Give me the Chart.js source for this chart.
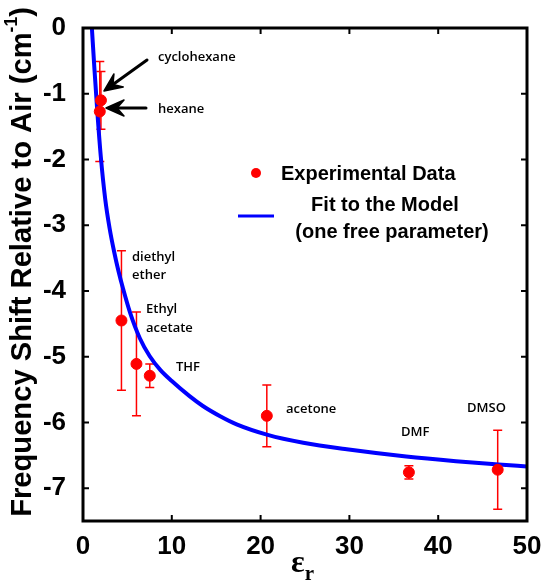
<!DOCTYPE html>
<html>
<head>
<meta charset="utf-8">
<script src="https://cdn.jsdelivr.net/npm/chart.js@4.4.0/dist/chart.umd.min.js"></script>
<style>
  html, body { margin: 0; padding: 0; background: #fff; }
  #wrap { width: 545px; height: 580px; }
</style>
</head>
<body>
<div id="wrap"><canvas id="shiftChart" width="545" height="580"></canvas></div>
<script>
// measured solvents
const solvents = ['hexane', 'cyclohexane', 'diethyl ether', 'Ethyl acetate', 'THF', 'acetone', 'DMF', 'DMSO'];
const epsilon = [1.89, 2.02, 4.33, 6.02, 7.52, 20.7, 36.7, 46.7];
const shift = [-1.27, -1.10, -4.45, -5.11, -5.29, -5.90, -6.76, -6.72];
const shiftErr = [0.76, 0.44, 1.06, 0.79, 0.18, 0.47, 0.10, 0.60];

// fit curve
const fitEps = [1.0, 1.3, 1.6, 2.0, 2.5, 3.0, 3.5, 4.0, 4.5, 5.3, 6.4, 7.5, 8.7, 10, 12, 13.5, 15.5, 17.3, 20.8, 24.8, 29.7, 36.4, 42, 46.8, 50];
const fitShift = [0, -0.65, -1.25, -1.95, -2.6, -3.05, -3.4, -3.7, -3.96, -4.33, -4.72, -4.99, -5.2, -5.37, -5.6, -5.75, -5.91, -6.03, -6.19, -6.31, -6.41, -6.52, -6.59, -6.64, -6.67];

const xTicks = [0, 10, 20, 30, 40, 50];
const yTicks = [0, -1, -2, -3, -4, -5, -6, -7];

const RED = '#ff0000';
const BLUE = '#0000ff';
const SANS = '"Liberation Sans", Arial, sans-serif';
const NOTE = '"Open Sans", sans-serif';

Chart.defaults.color = '#000';

function arrow(ctx, x1, y1, x2, y2) {
    const a = Math.atan2(y2 - y1, x2 - x1);
    const len = 18, wing = 8, notch = 11;
    ctx.save();
    ctx.strokeStyle = '#000';
    ctx.fillStyle = '#000';
    ctx.lineWidth = 3;
    ctx.lineCap = 'round';
    ctx.beginPath();
    ctx.moveTo(x1, y1);
    ctx.lineTo(x2 - Math.cos(a) * notch, y2 - Math.sin(a) * notch);
    ctx.stroke();
    ctx.translate(x2, y2);
    ctx.rotate(a);
    ctx.lineJoin = 'round';
    ctx.lineWidth = 1.5;
    ctx.beginPath();
    ctx.moveTo(0, 0);
    ctx.lineTo(-len, -wing);
    ctx.lineTo(-notch, 0);
    ctx.lineTo(-len, wing);
    ctx.closePath();
    ctx.fill();
    ctx.stroke();
    ctx.restore();
}

const errorBars = {
    id: 'errorBars',
    beforeDatasetsDraw(chart) {
        const { ctx, scales: { x, y } } = chart;
        ctx.save();
        ctx.strokeStyle = RED;
        ctx.lineWidth = 1.5;
        epsilon.forEach(function(e, i) {
            const px = x.getPixelForValue(e);
            const top = y.getPixelForValue(shift[i] + shiftErr[i]);
            const bot = y.getPixelForValue(shift[i] - shiftErr[i]);
            ctx.beginPath();
            ctx.moveTo(px, top); ctx.lineTo(px, bot);
            ctx.moveTo(px - 4.5, top); ctx.lineTo(px + 4.5, top);
            ctx.moveTo(px - 4.5, bot); ctx.lineTo(px + 4.5, bot);
            ctx.stroke();
        });
        ctx.restore();
    }
};

const frameAndText = {
    id: 'frameAndText',
    afterDraw(chart) {
        const { ctx, chartArea: a, scales: { x, y } } = chart;
        ctx.save();
        // box + inward ticks
        ctx.strokeStyle = '#000';
        ctx.lineWidth = 2;
        xTicks.forEach(function(v) {
            const px = x.getPixelForValue(v);
            ctx.beginPath();
            ctx.moveTo(px, a.bottom); ctx.lineTo(px, a.bottom - 6);
            ctx.moveTo(px, a.top); ctx.lineTo(px, a.top + 6);
            ctx.stroke();
        });
        yTicks.forEach(function(v) {
            const py = y.getPixelForValue(v);
            ctx.beginPath();
            ctx.moveTo(a.left, py); ctx.lineTo(a.left + 6, py);
            ctx.moveTo(a.right, py); ctx.lineTo(a.right - 6, py);
            ctx.stroke();
        });
        ctx.lineWidth = 3;
        ctx.strokeRect(a.left, a.top, a.right - a.left, a.bottom - a.top);

        // solvent labels
        ctx.fillStyle = '#000';
        ctx.font = '600 13px ' + NOTE;
        ctx.textBaseline = 'middle';
        ctx.textAlign = 'left';
        ctx.fillText('cyclohexane', 158, 57);
        ctx.fillText('hexane', 158, 109);
        ctx.fillText('diethyl', 132, 257);
        ctx.fillText('ether', 132, 275);
        ctx.fillText('Ethyl', 146, 309);
        ctx.fillText('acetate', 146, 328);
        ctx.fillText('THF', 176, 367);
        ctx.fillText('acetone', 286, 409);
        ctx.fillText('DMF', 401, 432);
        ctx.fillText('DMSO', 467, 408);
        arrow(ctx, 147, 60, 104, 91);
        arrow(ctx, 146, 108, 106, 108);

        // legend
        ctx.fillStyle = RED;
        ctx.beginPath();
        ctx.arc(256, 173, 5, 0, Math.PI * 2);
        ctx.fill();
        ctx.strokeStyle = BLUE;
        ctx.lineWidth = 3;
        ctx.beginPath();
        ctx.moveTo(238, 216); ctx.lineTo(274, 216);
        ctx.stroke();
        ctx.fillStyle = '#000';
        ctx.font = 'bold 20px ' + SANS;
        ctx.fillText('Experimental Data', 281, 174);
        ctx.textAlign = 'center';
        ctx.fillText('Fit to the Model', 385, 205);
        ctx.fillText('(one free parameter)', 392, 232);

        // x title: epsilon sub r
        ctx.textAlign = 'left';
        ctx.textBaseline = 'alphabetic';
        ctx.font = 'bold 32px "Liberation Serif", serif';
        const ew = ctx.measureText('ε').width;
        ctx.fillText('ε', 291, 572);
        ctx.font = 'bold 21px "Liberation Serif", serif';
        ctx.fillText('r', 291 + ew, 580);

        // y title with superscript, sized to span the reference length
        const main = 'Frequency Shift Relative to Air (cm';
        let fs = 23;
        ctx.font = 'bold ' + fs + 'px ' + SANS;
        const probe = ctx.measureText(main + ')').width + 0.6 * 14;
        fs = fs * 505 / probe;
        const ss = fs * 0.6;
        ctx.translate(23, 262);
        ctx.rotate(-Math.PI / 2);
        ctx.font = 'bold ' + fs + 'px ' + SANS;
        const w1 = ctx.measureText(main).width;
        const w3 = ctx.measureText(')').width;
        ctx.font = 'bold ' + ss + 'px ' + SANS;
        const w2 = ctx.measureText('-1').width;
        const sx = -(w1 + w2 + w3) / 2;
        ctx.textBaseline = 'middle';
        ctx.font = 'bold ' + fs + 'px ' + SANS;
        ctx.fillText(main, sx, 0);
        ctx.font = 'bold ' + ss + 'px ' + SANS;
        ctx.fillText('-1', sx + w1, -fs * 0.38);
        ctx.font = 'bold ' + fs + 'px ' + SANS;
        ctx.fillText(')', sx + w1 + w2, 0);
        ctx.restore();
    }
};

new Chart(document.getElementById('shiftChart'), {
    type: 'scatter',
    data: {
        datasets: [{
            label: 'Experimental Data',
            data: epsilon.map(function(e, i) { return { x: e, y: shift[i] }; }),
            backgroundColor: RED,
            borderColor: RED,
            pointRadius: 5.5,
            order: 0
        }, {
            label: 'Fit to the Model',
            type: 'line',
            data: fitEps.map(function(e, i) { return { x: e, y: fitShift[i] }; }),
            borderColor: BLUE,
            borderWidth: 4,
            pointRadius: 0,
            cubicInterpolationMode: 'monotone',
            fill: false,
            order: 1
        }]
    },
    options: {
        responsive: false,
        animation: false,
        layout: { padding: { left: 0, right: 18, top: 28, bottom: 0 } },
        plugins: {
            legend: { display: false },
            tooltip: { enabled: false }
        },
        scales: {
            x: {
                type: 'linear',
                min: 0,
                max: 50,
                afterBuildTicks: function(s) { s.ticks = xTicks.map(function(v) { return { value: v }; }); },
                afterFit: function(s) { s.height = 59; },
                grid: { display: false },
                border: { display: false },
                ticks: { font: { family: SANS, size: 26, weight: 'bold' }, padding: 2, maxRotation: 0 }
            },
            y: {
                min: -7.5,
                max: 0,
                afterBuildTicks: function(s) { s.ticks = yTicks.map(function(v) { return { value: v }; }); },
                afterFit: function(s) { s.width = 83; },
                grid: { display: false },
                border: { display: false },
                ticks: { font: { family: SANS, size: 26, weight: 'bold' }, padding: 9 }
            }
        }
    },
    plugins: [errorBars, frameAndText]
});
</script>
</body>
</html>
